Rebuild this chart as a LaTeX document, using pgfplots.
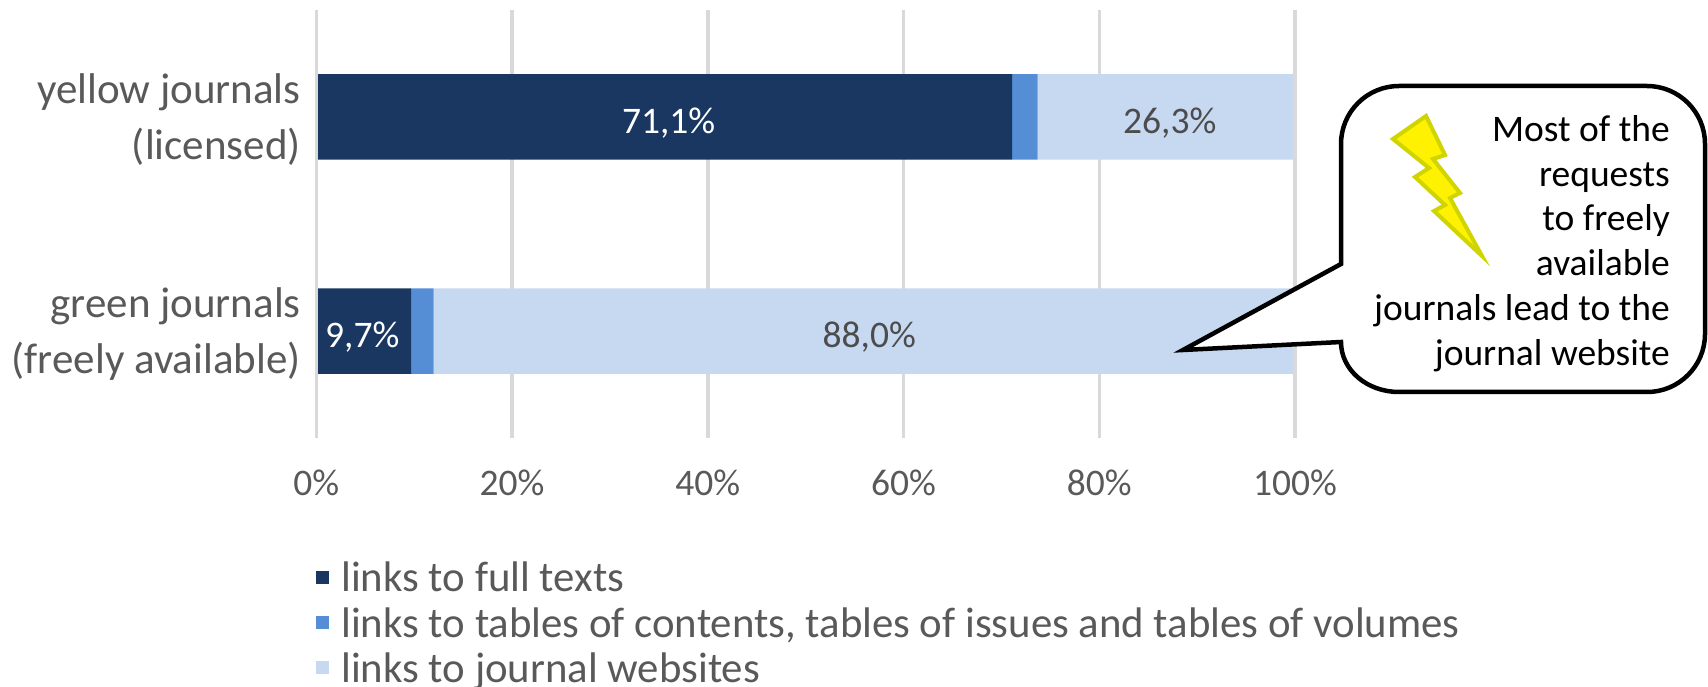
\documentclass[border=0pt]{standalone}
\usepackage{pgfplots}
\pgfplotsset{compat=1.18}
\usepackage{fontspec}
\setmainfont{Carlito}
\definecolor{cDark}{HTML}{193760}
\definecolor{cMid}{HTML}{558ED5}
\definecolor{cLight}{HTML}{C6D9F1}
\definecolor{cText}{HTML}{595959}
\definecolor{cGrid}{HTML}{D9D9D9}
\definecolor{cBoltEdge}{HTML}{D0D400}
\begin{document}
\begin{tikzpicture}[x=1pt,y=1pt]
\path[use as bounding box] (0,0) rectangle (1708,686);
\begin{axis}[
  at={(316.3pt,248pt)}, anchor=south west,
  scale only axis, width=978.7pt, height=428pt,
  xbar stacked, bar width=85.5pt,
  xmin=0, xmax=100, ymin=-0.5, ymax=1.5,
  axis line style={draw=none},
  major tick length=0pt,
  xtick={0,20,40,60,80,100},
  xticklabels={0\%,20\%,40\%,60\%,80\%,100\%},
  ytick={0,1},
  yticklabels={green journals\\(freely available),yellow journals\\(licensed)},
  xmajorgrids,
  grid style={cGrid,line width=3.5pt},
  xticklabel style={font=\fontsize{37.5}{44}\selectfont,text=cText,anchor=base,yshift=-57pt},
  yticklabel style={font=\fontsize{43}{56}\selectfont,text=cText,align=right,anchor=east,xshift=-12pt,yshift=-3pt},
  legend style={at={(0,-0.29)},anchor=north west,draw=none,fill=none,inner sep=0pt,outer sep=0pt,
    font=\fontsize{42.8}{44}\selectfont,text=cText,row sep=14pt,
    nodes={inner sep=0pt,anchor=base west}},
  legend cell align=left,
  legend image code/.code={\fill[#1] (0pt,8pt) rectangle (13pt,21pt);},
  clip=false,
]
\addplot[fill=cDark,draw=none] coordinates {(9.7,0) (71.1,1)};
\addlegendentry{\hspace{12pt}links to full texts}
\addplot[fill=cMid,draw=none] coordinates {(2.3,0) (2.6,1)};
\addlegendentry{\hspace{12pt}links to tables of contents, tables of issues and tables of volumes}
\addplot[fill=cLight,draw=none] coordinates {(88.0,0) (26.3,1)};
\addlegendentry{\hspace{12pt}links to journal websites}
\end{axis}
\begin{axis}[
  at={(316.3pt,248pt)}, anchor=south west,
  scale only axis, width=978.7pt, height=428pt,
  xmin=0, xmax=100, ymin=-0.5, ymax=1.5,
  hide axis, clip=false,
]
\addplot[cGrid,line width=3.5pt] coordinates {(0,-0.5) (0,1.5)};
\addplot[cGrid,line width=3.5pt] coordinates {(100,-0.5) (100,1.5)};
\node[yshift=-6.5pt,font=\fontsize{37.5}{44}\selectfont,text=white] at (axis cs:36,1) {71,1\%};
\node[yshift=-6.5pt,font=\fontsize{37.5}{44}\selectfont,text=white] at (axis cs:4.7,0) {9,7\%};
\node[yshift=-6.5pt,font=\fontsize{37.5}{44}\selectfont,text=cText!85!black] at (axis cs:87.2,1) {26,3\%};
\node[yshift=-6.5pt,font=\fontsize{37.5}{44}\selectfont,text=cText!85!black] at (axis cs:56.5,0) {88,0\%};
\end{axis}
\begin{scope}[shift={(0,686)},y=-1pt,x=1pt]
\draw[black,line width=4.5pt,fill=white,line join=miter,miter limit=20]
  (1341,342) -- (1183,350) -- (1341,264) -- (1341,144)
  .. controls (1341,112) and (1367,86) .. (1399,86) -- (1647,86)
  .. controls (1679,86) and (1705,112) .. (1705,144) -- (1705,334)
  .. controls (1705,366) and (1679,392) .. (1647,392) -- (1399,392)
  .. controls (1367,392) and (1341,370) .. (1341,342) -- cycle;
\draw[cBoltEdge,line width=4pt,fill=yellow,line join=miter,miter limit=10]
  (1426,116) -- (1445,155) -- (1433,159) -- (1460,193) -- (1450,198) -- (1482,256)
  -- (1434,211) -- (1445,205) -- (1415,177) -- (1429,168) -- (1393,139) -- cycle;
\node[anchor=south east,inner sep=0pt,align=right,text=black,font=\fontsize{37.5}{44.8}\selectfont]
  at (1670,372) {Most of the\\requests\\to freely\\available\\journals lead to the\\journal website};
\end{scope}
\end{tikzpicture}
\end{document}
